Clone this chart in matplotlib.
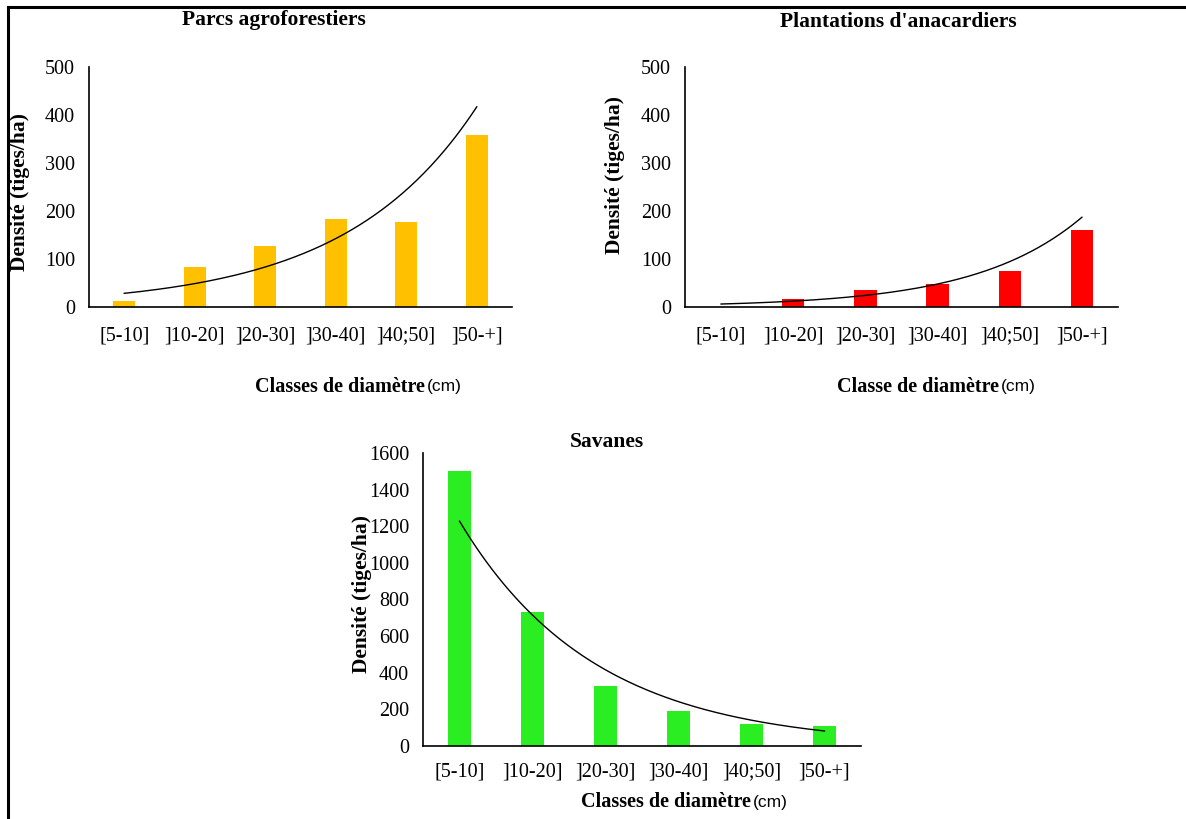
import numpy as np
import matplotlib.pyplot as plt
from matplotlib.lines import Line2D

# Diameter classes (shared by the three panels)
classes = ["[5-10]", "]10-20]", "]20-30]", "]30-40]", "]40;50]", "]50-+]"]

# Stem density (stems/ha)
parcs = [12, 84, 128, 183, 178, 358]
anacardiers = [1, 16, 35, 48, 74, 160]
savanes = [1500, 730, 328, 191, 118, 109]

# Exponential trendline values at first and last class
parcs_trend = [28.5, 417]
anacardiers_trend = [6.2, 187]
savanes_trend = [1228, 82]

W, H = 1186, 819
fig = plt.figure(figsize=(W / 100, H / 100), dpi=100)
plt.rcParams['font.family'] = ['Liberation Serif', 'DejaVu Serif']


def px(x, y):
    return x / W, 1 - y / H


def panel(rect, values, trend, color, ymax, ystep):
    x0, y0, x1, y1 = rect
    ax = fig.add_axes([x0 / W, 1 - y1 / H, (x1 - x0) / W, (y1 - y0) / H])
    x = np.arange(1, len(classes) + 1)
    ax.bar(x, values, width=0.31, color=color)
    # exponential trendline between the two read values
    b = np.log(trend[1] / trend[0]) / (len(classes) - 1)
    xs = np.linspace(1, len(classes), 200)
    ax.plot(xs, trend[0] * np.exp(b * (xs - 1)), color="black", lw=1.0)
    ax.set_xlim(0.5, len(classes) + 0.5)
    ax.set_ylim(0, ymax)
    ax.set_yticks(np.arange(0, ymax + 1, ystep))
    ax.set_xticks(x)
    ax.set_xticklabels(classes)
    ax.tick_params(length=0, labelsize=14.5, pad=10)
    ax.tick_params(axis="x", pad=14)
    for s in ["top", "right"]:
        ax.spines[s].set_visible(False)
    for s in ["left", "bottom"]:
        ax.spines[s].set_linewidth(1.2)
    return ax


ax1 = panel((89, 67, 512, 307), parcs, parcs_trend, "#FFC000", 500, 100)
ax2 = panel((685, 67, 1118, 307), anacardiers, anacardiers_trend, "#FF0000", 500, 100)
ax3 = panel((423, 453, 861, 746), savanes, savanes_trend, "#2BEE22", 1600, 200)
ax3.tick_params(axis="x", pad=12)

# titles
for (tx, ty), t in [((274, 20), "Parcs agroforestiers"),
                    ((898, 22), "Plantations d'anacardiers"),
                    ((607, 442), "Savanes")]:
    fig.text(*px(tx, ty), t, ha="center", va="center", fontsize=15.5, fontweight="bold")

# y labels
for (tx, ty) in [(20, 192), (615, 175), (362, 594)]:
    fig.text(*px(tx, ty), "Densité (tiges/ha)", ha="center", va="center",
             rotation=90, fontsize=15.5, fontweight="bold")

# x labels: bold part + "(cm)" in sans
for (tx, ty), t in [((255, 387), "Classes de diamètre"),
                    ((837, 387), "Classe de diamètre"),
                    ((581, 802), "Classes de diamètre")]:
    txt = fig.text(*px(tx, ty), t, ha="left", va="center", fontsize=14.5, fontweight="bold")
    fig.canvas.draw()
    bb = txt.get_window_extent()
    fig.text(bb.x1 / W + 0.002, 1 - ty / H, "(cm)", ha="left", va="center",
             fontsize=12.5, family=["Liberation Sans", "DejaVu Sans"])

# border (top and left lines)
fig.add_artist(Line2D([8 / W, 1], [1 - 7 / H, 1 - 7 / H], color="black", lw=2.2))
fig.add_artist(Line2D([8 / W, 8 / W], [0, 1 - 7 / H], color="black", lw=2.2))

fig.savefig("out.png", dpi=100)
